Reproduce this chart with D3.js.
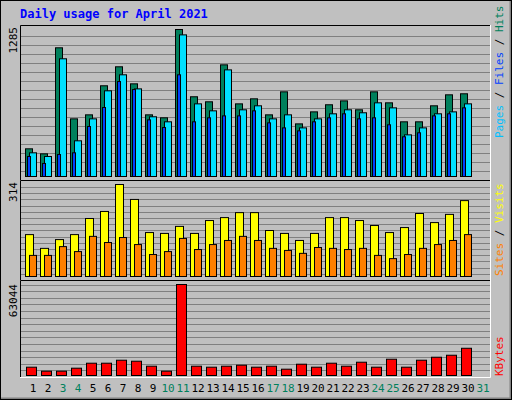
<!DOCTYPE html>
<html><head><meta charset="utf-8">
<script src="https://cdn.jsdelivr.net/npm/d3@7"></script>
<style>body{margin:0;background:#fff}svg{display:block}</style>
</head><body>
<svg id="chart" width="512" height="400"></svg>
<script>
// day numbers and the weekend days (drawn green)
var days = d3.range(1, 32);
var weekend = [3, 4, 10, 11, 17, 18, 24, 25, 31];

// values, days 1..30 (31 has no data)
var hits   = [242,198,1125,504,539,793,959,810,539,513,1285,697,653,976,635,679,539,740,460,565,627,661,583,740,644,478,478,618,714,723];
var files  = [207,175,1029,312,504,749,889,766,522,478,1238,635,574,932,583,618,504,539,425,504,548,583,557,644,600,364,425,548,565,635];
var pages  = [175,114,192,207,437,603,830,760,495,428,889,478,513,530,530,574,469,425,399,478,513,548,504,513,452,347,382,530,548,600];
var visits = [143,96,126,143,198,222,314,263,150,147,171,147,191,201,218,218,157,147,123,147,201,201,191,174,150,167,215,184,212,259];
var sites  = [72,72,102,85,137,116,133,109,75,85,130,92,109,123,137,123,96,89,79,99,96,92,96,72,61,75,96,109,123,143];
var kbytes = [5752,2991,2991,5062,8513,8513,10584,9894,6442,2991,63044,6442,5752,6442,7133,5752,6442,4372,7823,5752,8513,6442,9203,5752,11274,5752,10584,12655,14035,18867];

var svg = d3.select("#chart");
var font = "'DejaVu Sans Mono', 'Liberation Mono', monospace";

// outer frame
svg.append("rect").attr("width", 512).attr("height", 400).attr("fill", "#c0c0c0");
svg.append("path").attr("d", "M0,400V0H512").attr("stroke", "#fff").attr("stroke-width", 2).attr("fill", "none");
svg.append("path").attr("d", "M1,399H511V1").attr("stroke", "#808080").attr("stroke-width", 3).attr("fill", "none");
svg.append("rect").attr("x", 0.5).attr("y", 0.5).attr("width", 511).attr("height", 399).attr("fill", "none").attr("stroke", "#000");

svg.append("text").attr("x", 20).attr("y", 18).attr("font-family", font).attr("font-weight", "bold")
    .attr("font-size", 12).attr("fill", "#0000ff").text("Daily usage for April 2021");

var x = d3.scaleLinear().domain([1, 30]).range([25, 460]);

function panel(top, bottom, gridStep) {
    svg.append("rect").attr("x", 20).attr("y", top).attr("width", 471).attr("height", bottom - top).attr("fill", "#c0c0c0");
    for (var gy = bottom - gridStep; gy > top + 2; gy -= gridStep) {
        svg.append("line").attr("x1", 21).attr("x2", 490).attr("y1", Math.round(gy) + 0.5).attr("y2", Math.round(gy) + 0.5)
            .attr("stroke", "#808080").attr("stroke-width", 1.2);
    }
    svg.append("path").attr("d", "M20.5," + bottom + "V" + (top + 0.5) + "H491").attr("stroke", "#000").attr("fill", "none");
    svg.append("path").attr("d", "M20," + (bottom + 0.5) + "H490.5V" + top).attr("stroke", "#fff").attr("fill", "none");
}

function bars(data, y, dx, w, color) {
    svg.append("g").selectAll("rect").data(data).enter().append("rect")
        .attr("x", function (d, i) { return x(i + 1) + dx + 0.5; })
        .attr("y", function (d) { return y(d) + 0.5; })
        .attr("width", w)
        .attr("height", function (d) { return y(0) - y(d); })
        .attr("fill", color).attr("stroke", "#000").attr("stroke-width", 1);
}

function leftLabel(txt, yTop) {
    svg.append("text").attr("transform", "translate(17," + yTop + ") rotate(-90)")
        .attr("text-anchor", "end").attr("font-family", font).attr("font-size", 11).attr("fill", "#000").text(txt);
}

function rightLabel(parts, yBottom) {
    var t = svg.append("text").attr("transform", "translate(503," + yBottom + ") rotate(-90)")
        .attr("font-family", font).attr("font-size", 11);
    parts.forEach(function (p) { t.append("tspan").attr("fill", p[1]).text(p[0]); });
}

// top panel: hits / files / pages
panel(25, 180, 9);
var y1 = d3.scaleLinear().domain([0, d3.max(hits)]).range([176, 29]);
bars(hits, y1, 0, 7, "#00805c");
bars(files, y1, 4, 7, "#00e0ff");
bars(pages, y1, 2, 3, "#0040ff");
leftLabel("1285", 27);
rightLabel([["Pages", "#00c0ff"], [" / ", "#000"], ["Files", "#0040ff"], [" / ", "#000"], ["Hits", "#00805c"]], 138);

// middle panel: visits / sites
panel(180, 280, 6.2);
var y2 = d3.scaleLinear().domain([0, d3.max(visits)]).range([276, 184]);
bars(visits, y2, 0, 8, "#ffff00");
bars(sites, y2, 4, 7, "#ff8000");
leftLabel("314", 182);
rightLabel([["Sites", "#ff8000"], [" / ", "#000"], ["Visits", "#ffff00"]], 276);

// bottom panel: kbytes
panel(280, 377, 6.6);
var y3 = d3.scaleLinear().domain([0, d3.max(kbytes)]).range([375, 284]);
bars(kbytes, y3, 1, 10, "#ff0000");
leftLabel("63044", 284);
rightLabel([["KBytes", "#ff0000"]], 376);

// day labels
svg.append("g").selectAll("text").data(days).enter().append("text")
    .attr("x", function (d) { return x(d) + 8; })
    .attr("y", 392).attr("text-anchor", "middle").attr("font-family", font).attr("font-size", 11)
    .attr("fill", function (d) { return weekend.indexOf(d) >= 0 ? "#00805c" : "#000"; })
    .text(function (d) { return d; });
</script>
</body></html>
